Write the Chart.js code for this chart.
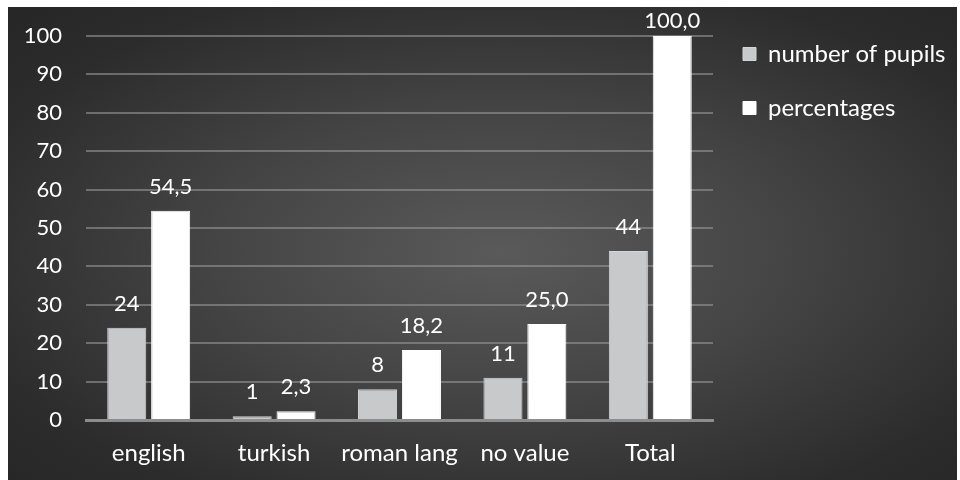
<!DOCTYPE html>
<html>
<head>
<meta charset="utf-8">
<script src="https://cdn.jsdelivr.net/npm/chart.js@4/dist/chart.umd.min.js"></script>
<style>
  html, body { margin: 0; padding: 0; background: #fff; }
  #box {
    position: absolute; left: 8px; top: 7px; width: 949px; height: 473px;
    background: radial-gradient(ellipse at 52% 52%, #5a5a5a 0%, #454545 40%, #2c2c2c 80%, #262626 100%);
  }
</style>
</head>
<body>
<div id="box"><canvas id="myChart" width="949" height="473"></canvas></div>
<script>
// data
var categories = ['english', 'turkish', 'roman lang', 'no value', 'Total'];
var pupils = [24, 1, 8, 11, 44];
var percentages = [54.5, 2.3, 18.2, 25.0, 100.0];
var yTicks = [0, 10, 20, 30, 40, 50, 60, 70, 80, 90, 100];

var fontFamily = 'Lato, "Open Sans", sans-serif';

// value labels over the bars (Excel style, decimal comma)
var valueLabels = {
  id: 'valueLabels',
  afterDatasetsDraw: function (chart) {
    var ctx = chart.ctx;
    ctx.save();
    ctx.font = '22px ' + fontFamily;
    ctx.fillStyle = '#ffffff';
    ctx.textAlign = 'center';
    ctx.textBaseline = 'alphabetic';
    chart.data.datasets.forEach(function (ds, i) {
      var meta = chart.getDatasetMeta(i);
      meta.data.forEach(function (bar, j) {
        var v = ds.data[j];
        var txt = i === 0 ? String(v) : v.toFixed(1).replace('.', ',');
        var y = Math.max(bar.y - 17, 21);
        ctx.fillText(txt, bar.x, y);
      });
    });
    ctx.restore();
  }
};

// move legend up to the top of the box
var legendShift = {
  id: 'legendShift',
  beforeDraw: function (chart) {
    if (chart.legend) chart.legend.top = 5;
  }
};

var ctx = document.getElementById('myChart').getContext('2d');
var myChart = new Chart(ctx, {
  type: 'bar',
  data: {
    labels: categories,
    datasets: [{
      label: 'number of pupils',
      data: pupils,
      backgroundColor: '#c8c9cb',
      borderColor: '#d4d5d7',
      borderWidth: 1
    }, {
      label: 'percentages',
      data: percentages,
      backgroundColor: '#ffffff',
      borderColor: '#ffffff',
      borderWidth: 1
    }]
  },
  options: {
    responsive: false,
    animation: false,
    layout: { padding: { top: 29, right: 9, left: 0, bottom: 0 } },
    datasets: { bar: { categoryPercentage: 0.7, barPercentage: 0.89 } },
    scales: {
      x: {
        grid: { display: false },
        border: { display: true, color: '#8d8d8d', width: 3 },
        ticks: { color: '#ffffff', font: { family: fontFamily, size: 24 }, padding: 11 },
        afterFit: function (s) { s.height = 60; }
      },
      y: {
        min: 0,
        max: 100,
        afterBuildTicks: function (s) { s.ticks = yTicks.map(function (v) { return { value: v }; }); },
        grid: { color: 'rgba(150,150,150,0.6)', lineWidth: 2, drawTicks: true, tickLength: 16, tickColor: 'transparent' },
        border: { display: false },
        ticks: { color: '#ffffff', font: { family: fontFamily, size: 22 }, padding: 8 },
        afterFit: function (s) { s.width = 78; }
      }
    },
    plugins: {
      legend: {
        position: 'right',
        align: 'start',
        labels: {
          color: '#ffffff',
          font: { family: fontFamily, size: 24 },
          boxWidth: 13,
          boxHeight: 13,
          padding: 30
        }
      },
      tooltip: { enabled: false }
    }
  },
  plugins: [valueLabels, legendShift]
});
</script>
</body>
</html>
